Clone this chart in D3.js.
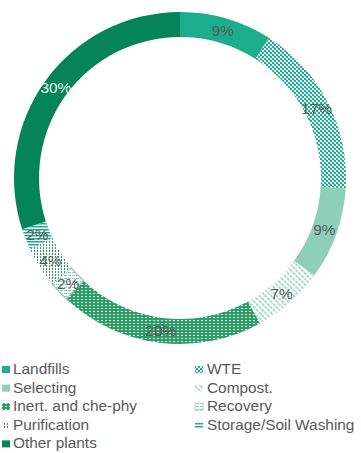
<!DOCTYPE html>
<html>
<head>
<meta charset="utf-8">
<script src="https://cdn.jsdelivr.net/npm/d3@7"></script>
<style>
  html, body { margin: 0; padding: 0; background: #fff; }
  svg { display: block; font-family: "Liberation Sans", Arial, sans-serif; }
</style>
</head>
<body>
<svg id="chart" width="361" height="453"></svg>
<script>
// Plant categories and their share (%) of the total
const categories = ["Landfills", "WTE", "Selecting", "Compost.", "Inert. and che-phy",
                    "Recovery", "Purification", "Storage/Soil Washing", "Other plants"];
const shares = [9, 17, 9, 7, 20, 2, 4, 2, 30];
const labels = ["9%", "17%", "9%", "7%", "20%", "2%", "4%", "2%", "30%"];
// Legend is laid out in two columns, row by row
const legendOrder = categories;

const svg = d3.select("#chart");
const defs = svg.append("defs");

const teal = "#1aae8d", lightTeal = "#8ecfba", darkGreen = "#05845a", midGreen = "#2e9e69";

// Fill patterns for each category
function pat(id, w, h, draw, transform) {
  const p = defs.append("pattern").attr("id", id)
    .attr("patternUnits", "userSpaceOnUse").attr("width", w).attr("height", h);
  if (transform) p.attr("patternTransform", transform);
  draw(p);
  return `url(#${id})`;
}

const fills = [
  teal,
  pat("p-wte", 4, 4, p => {
    p.append("rect").attr("width", 4).attr("height", 4).attr("fill", "#fff");
    p.append("rect").attr("x", 0).attr("y", 0).attr("width", 2).attr("height", 2).attr("fill", teal);
    p.append("rect").attr("x", 2).attr("y", 2).attr("width", 2).attr("height", 2).attr("fill", teal);
    p.append("rect").attr("x", 1).attr("y", 1).attr("width", 2).attr("height", 2).attr("fill", teal).attr("opacity", 0.35);
  }),
  lightTeal,
  pat("p-compost", 4, 4, p => {
    p.append("rect").attr("width", 4).attr("height", 4).attr("fill", "#fff");
    p.append("line").attr("x1", 1).attr("y1", 0).attr("x2", 1).attr("y2", 4)
      .attr("stroke", "#7fc8b2").attr("stroke-width", 1.4).attr("stroke-dasharray", "1.5,1");
  }, "rotate(-45)"),
  pat("p-inert", 4, 3, p => {
    p.append("rect").attr("width", 4).attr("height", 3).attr("fill", midGreen);
    p.append("rect").attr("x", 1).attr("y", 1).attr("width", 2).attr("height", 1).attr("fill", "#fff").attr("opacity", 0.85);
  }),
  pat("p-recovery", 4, 3, p => {
    p.append("rect").attr("width", 4).attr("height", 3).attr("fill", "#fff");
    p.append("rect").attr("x", 0).attr("y", 1).attr("width", 3).attr("height", 1).attr("fill", lightTeal);
  }),
  pat("p-purif", 3, 3, p => {
    p.append("rect").attr("width", 3).attr("height", 3).attr("fill", "#fff");
    p.append("rect").attr("x", 1).attr("y", 0).attr("width", 1).attr("height", 2).attr("fill", midGreen);
  }),
  pat("p-storage", 3, 3, p => {
    p.append("rect").attr("width", 3).attr("height", 3).attr("fill", "#fff");
    p.append("rect").attr("x", 0).attr("y", 0).attr("width", 3).attr("height", 1.5).attr("fill", teal);
  }),
  darkGreen
];
const strokes = [null, null, null, null, null, lightTeal, null, null, null];

// Donut
const cx = 180, cy = 178, outerR = 166, innerR = 141;
const pie = d3.pie().sort(null).value(d => d.v);
const data = pie(shares.map((v, i) => ({ v, i })));
const arc = d3.arc().innerRadius(innerR).outerRadius(outerR);

const g = svg.append("g").attr("transform", `translate(${cx},${cy})`);
g.selectAll("path.slice").data(data).join("path")
  .attr("class", "slice")
  .attr("d", arc)
  .attr("fill", d => fills[d.data.i])
  .attr("stroke", d => strokes[d.data.i] || "none")
  .attr("stroke-width", d => strokes[d.data.i] ? 1.2 : 0);

// Percentage labels at slice centroids
g.selectAll("text.lbl").data(data).join("text")
  .attr("class", "lbl")
  .attr("x", d => arc.centroid(d)[0])
  .attr("y", d => arc.centroid(d)[1])
  .attr("text-anchor", "middle")
  .attr("dominant-baseline", "central")
  .attr("font-size", "15.4px")
  .attr("fill", d => d.data.i === 8 ? "#e8f4ee" : "#595959")
  .text(d => labels[d.data.i]);

// Legend
const colX = [2, 195], textX = [13, 207], row0 = 374, rowH = 18.6;
const leg = svg.append("g");
legendOrder.forEach((name, k) => {
  const col = k % 2, row = Math.floor(k / 2);
  const y = row0 + row * rowH;
  const i = categories.indexOf(name);
  leg.append("rect")
    .attr("x", colX[col]).attr("y", y - 8).attr("width", 8).attr("height", 7)
    .attr("fill", fills[i])
    .attr("stroke", strokes[i] || "none").attr("stroke-width", strokes[i] ? 0.8 : 0);
  leg.append("text")
    .attr("x", textX[col]).attr("y", y)
    .attr("font-size", "15.4px").attr("fill", "#595959")
    .text(name);
});
</script>
</body>
</html>
